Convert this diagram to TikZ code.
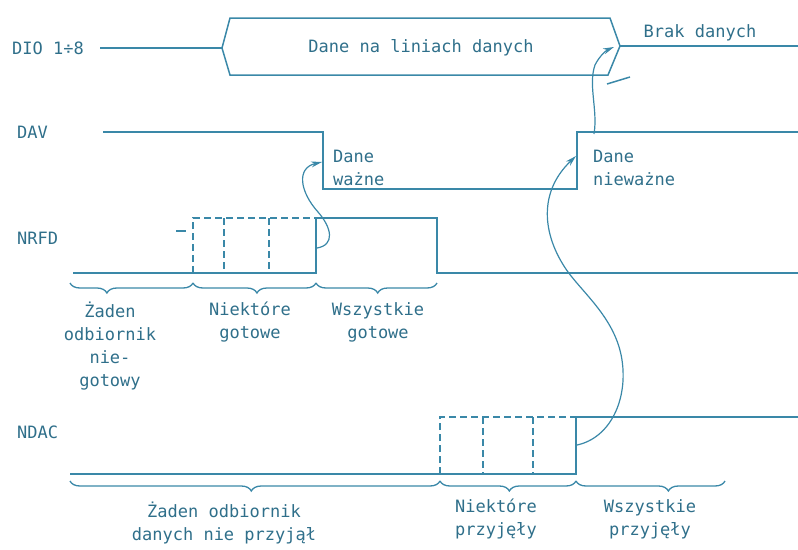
\documentclass[tikz,border=0pt]{standalone}
\usepackage{fontspec}
\setmonofont{DejaVu Sans Mono}
\usepackage{tikz}
\usetikzlibrary{arrows.meta,decorations.pathreplacing}
\definecolor{hsline}{HTML}{3A88A8}
\definecolor{hstext}{HTML}{2F6F8A}
\tikzset{
  hswire/.style={draw=hsline, line width=1.5pt, line join=miter},
  hsdash/.style={hswire, dash pattern=on 7pt off 4pt},
  hsbrace/.style={draw=hsline, line width=1.3pt, decorate,
                  decoration={brace, mirror, amplitude=10pt, aspect=#1}},
  hsbrace/.default=0.5,
  hscause/.style={-{Stealth[length=11pt,width=6pt]}, draw=hsline, line width=1.2pt},
  hslabel/.style={text=hstext, font=\ttfamily\fontsize{17}{23}\selectfont, inner sep=0pt},
  hsnote/.style={hslabel, align=center, anchor=north},
}

\begin{document}
\begin{tikzpicture}[x=1pt,y=-1pt]
  \useasboundingbox (0,0) rectangle (798,549);
  % signal names
  \node[hslabel,anchor=west] (dio)  at (12,48)  {DIO 1÷8};
  \node[hslabel,anchor=west] (dav)  at (17,132) {DAV};
  \node[hslabel,anchor=west] (nrfd) at (17,238) {NRFD};
  \node[hslabel,anchor=west] (ndac) at (17,432) {NDAC};

  % DIO bus
  \draw[hswire] (100,48) -- (222,48);
  \draw[hswire] (222,48) -- (230,18) -- (610,18) -- (620,46) -- (608,75) -- (230,75) -- cycle;
  \draw[hswire] (620,46) -- (798,46);
  \draw[hswire] (607,84) -- (630,77);
  \node[hslabel] (dane) at (421,48) {Dane na liniach danych};
  \node[hslabel] (brak) at (700,33) {Brak danych};

  % DAV
  \draw[hswire] (103,132) -- (323,132) -- (323,189) -- (577,189) -- (577,132) -- (798,132);
  \node[hslabel,align=left,anchor=west] (wazne) at (333,168) {Dane\\ważne};
  \node[hslabel,align=left,anchor=west] (niewazne) at (593,168) {Dane\\nieważne};

  % NRFD
  \draw[hswire] (73,273) -- (316,273) -- (316,218) -- (437,218) -- (437,273) -- (798,273);
  \draw[hsdash] (193,273) -- (193,218) -- (316,218);
  \foreach \x in {224,269} \draw[hsdash] (\x,218) -- (\x,273);
  \draw[hswire] (176,231) -- (186,231);
  \foreach \a/\b/\asp in {70/193/0.3, 193/316/0.52, 316/437/0.51}
    \draw[hsbrace=\asp] (\a,283) -- (\b,283);
  \node[hsnote] (zaden1) at (110,302) {Żaden\\odbiornik\\nie-\\gotowy};
  \node[hsnote] (niekt1) at (250,302) {Niektóre\\gotowe};
  \node[hsnote] (wszys1) at (378,302) {Wszystkie\\gotowe};

  % NDAC
  \draw[hswire] (70,474) -- (576,474) -- (576,417) -- (798,417);
  \draw[hsdash] (440,474) -- (440,417) -- (576,417);
  \foreach \x in {483,533} \draw[hsdash] (\x,417) -- (\x,474);
  \foreach \a/\b/\asp in {70/440/0.49, 440/576/0.51, 576/725/0.62}
    \draw[hsbrace=\asp] (\a,481) -- (\b,481);
  \node[hsnote] (zaden2) at (224,502) {Żaden odbiornik\\danych nie przyjął};
  \node[hsnote] (niekt2) at (496,499) {Niektóre\\przyjęły};
  \node[hsnote] (wszys2) at (650,499) {Wszystkie\\przyjęły};

  % handshake: which edge causes which
  \coordinate (nrfdUp)  at (317,248);
  \coordinate (davDown) at (322,162);
  \coordinate (ndacUp)  at (577,445);
  \coordinate (davUp)   at (576,156);
  \coordinate (davHigh) at (594,134);
  \coordinate (dioEnd)  at (614,47);
  \draw[hscause] (nrfdUp) .. controls (335,245) and (332,228) .. (318,212)
                          .. controls (300,192) and (296,168) .. (davDown);
  \draw[hscause] (ndacUp) .. controls (610,438) and (628,400) .. (622,360)
                          .. controls (616,320) and (585,295) .. (568,272)
                          .. controls (545,240) and (535,195) .. (davUp);
  \draw[hscause] (davHigh) .. controls (598,110) and (588,85) .. (595,65)
                           .. controls (600,55) and (607,50) .. (dioEnd);
\end{tikzpicture}
\end{document}
